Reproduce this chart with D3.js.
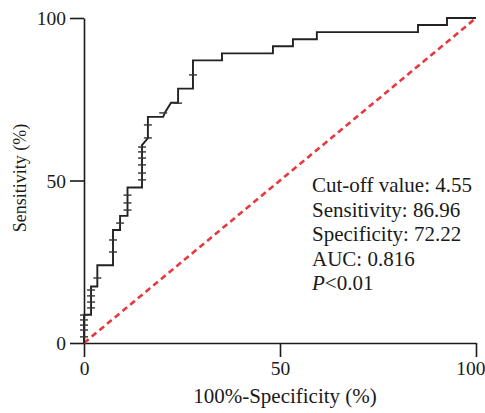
<!DOCTYPE html>
<html>
<head>
<meta charset="utf-8">
<script src="https://cdn.jsdelivr.net/npm/d3@7"></script>
<style>
  body { margin: 0; background: #fff; }
  svg text { font-family: "Liberation Serif", "Times New Roman", serif; fill: #1a1a1a; }
</style>
</head>
<body>
<div class="chart-container"></div>
<script>
// ROC curve corner points: [100%-specificity, sensitivity]
const rocFpr = [0, 0, 1.8, 1.8, 3.4, 3.4, 7.4, 7.4, 9.2, 9.2, 11.1, 11.1, 14.8, 14.8, 16.3, 16.3,
                20.2, 20.7, 22.2, 24.0, 24.0, 27.8, 27.8, 35.2, 35.2, 48.2, 48.2, 53.3, 53.3,
                59.4, 59.4, 85.2, 85.2, 92.6, 92.6, 100];
const rocTpr = [0, 8.70, 8.70, 17.39, 17.39, 23.91, 23.91, 34.78, 34.78, 39.13, 39.13, 47.83, 47.83,
                60.87, 63.04, 69.57, 69.57, 71.0, 73.91, 73.91, 78.26, 78.26, 86.96, 86.96, 89.13,
                89.13, 91.30, 91.30, 93.48, 93.48, 95.65, 95.65, 97.83, 97.83, 100, 100];

// marker positions along the curve
const markFpr = [0, 0, 0, 0, 0, 1.8, 1.8, 1.8, 1.8, 3.4, 7.4, 7.4, 9.2, 11.1, 11.1, 11.1,
                 14.8, 14.8, 14.8, 14.8, 14.8, 14.8, 16.3, 16.3, 20.2, 24.0, 27.8];
const markTpr = [1.9, 4.0, 5.5, 7.1, 8.6, 10.8, 12.6, 14.5, 16.3, 20.0, 28.0, 31.7, 36.9, 40.9, 43.1, 45.5,
                 50.2, 52.3, 54.8, 56.9, 58.8, 60.3, 63.1, 67.1, 70.8, 73.8, 82.5];

const xTicks = [0, 50, 100];
const yTicks = [0, 50, 100];
const statLines = ["Cut-off value: 4.55", "Sensitivity: 86.96", "Specificity: 72.22", "AUC: 0.816"];

const W = 485, H = 413;
const svg = d3.select(".chart-container")
    .append("svg")
        .attr("width", W)
        .attr("height", H);

const x = d3.scaleLinear().domain([0, 100]).range([84, 476]);
const y = d3.scaleLinear().domain([0, 100]).range([343, 18]);

// axes
const gx = svg.append("g")
    .attr("transform", `translate(0, ${y(0)})`)
    .call(d3.axisBottom(x).tickValues(xTicks).tickSize(14).tickPadding(4).tickSizeOuter(0));
const gy = svg.append("g")
    .attr("transform", `translate(${x(0)}, 0)`)
    .call(d3.axisLeft(y).tickValues(yTicks).tickSize(14).tickPadding(4).tickSizeOuter(0));

[gx, gy].forEach(g => {
    g.select(".domain").attr("stroke", "#1a1a1a").attr("stroke-width", 1.6);
    g.selectAll(".tick line").attr("stroke", "#1a1a1a").attr("stroke-width", 1.6);
    g.selectAll(".tick text")
        .attr("font-family", "Liberation Serif, serif")
        .attr("font-size", 19.5)
        .attr("fill", "#1a1a1a");
});
gy.selectAll(".tick text").attr("dy", "0.35em");
// last x label sits against the right edge
gx.selectAll(".tick text").filter(d => d === 100)
    .attr("text-anchor", "end")
    .attr("dx", 9);

// reference diagonal
svg.append("line")
    .attr("x1", x(0)).attr("y1", y(0))
    .attr("x2", x(100)).attr("y2", y(100))
    .attr("stroke", "#e8383d")
    .attr("stroke-width", 2.6)
    .attr("stroke-dasharray", "6,4");

// ROC curve
const pts = rocFpr.map((f, i) => [f, rocTpr[i]]);
svg.append("path")
    .datum(pts)
    .attr("fill", "none")
    .attr("stroke", "#222")
    .attr("stroke-width", 1.9)
    .attr("d", d3.line().x(d => x(d[0])).y(d => y(d[1])));

// markers
svg.selectAll(".mark")
    .data(markFpr.map((f, i) => [f, markTpr[i]]))
    .join("line")
        .attr("class", "mark")
        .attr("x1", d => x(d[0]) - 4)
        .attr("x2", d => x(d[0]) + 4)
        .attr("y1", d => y(d[1]))
        .attr("y2", d => y(d[1]))
        .attr("stroke", "#333")
        .attr("stroke-width", 1.4);

// stats text
const stats = svg.append("text")
    .attr("font-size", 21);
statLines.forEach((s, i) => {
    stats.append("tspan").attr("x", 312).attr("y", 192 + i * 24.5).text(s);
});
const pLine = stats.append("tspan").attr("x", 312).attr("y", 192 + 4 * 24.5);
pLine.append("tspan").attr("font-style", "italic").text("P");
pLine.append("tspan").text("<0.01");

// axis titles
svg.append("text")
    .attr("x", 285)
    .attr("y", 403)
    .attr("text-anchor", "middle")
    .attr("font-size", 21)
    .text("100%-Specificity (%)");
svg.append("text")
    .attr("transform", `translate(26, 178) rotate(-90)`)
    .attr("text-anchor", "middle")
    .attr("font-size", 18)
    .text("Sensitivity (%)");
</script>
</body>
</html>
